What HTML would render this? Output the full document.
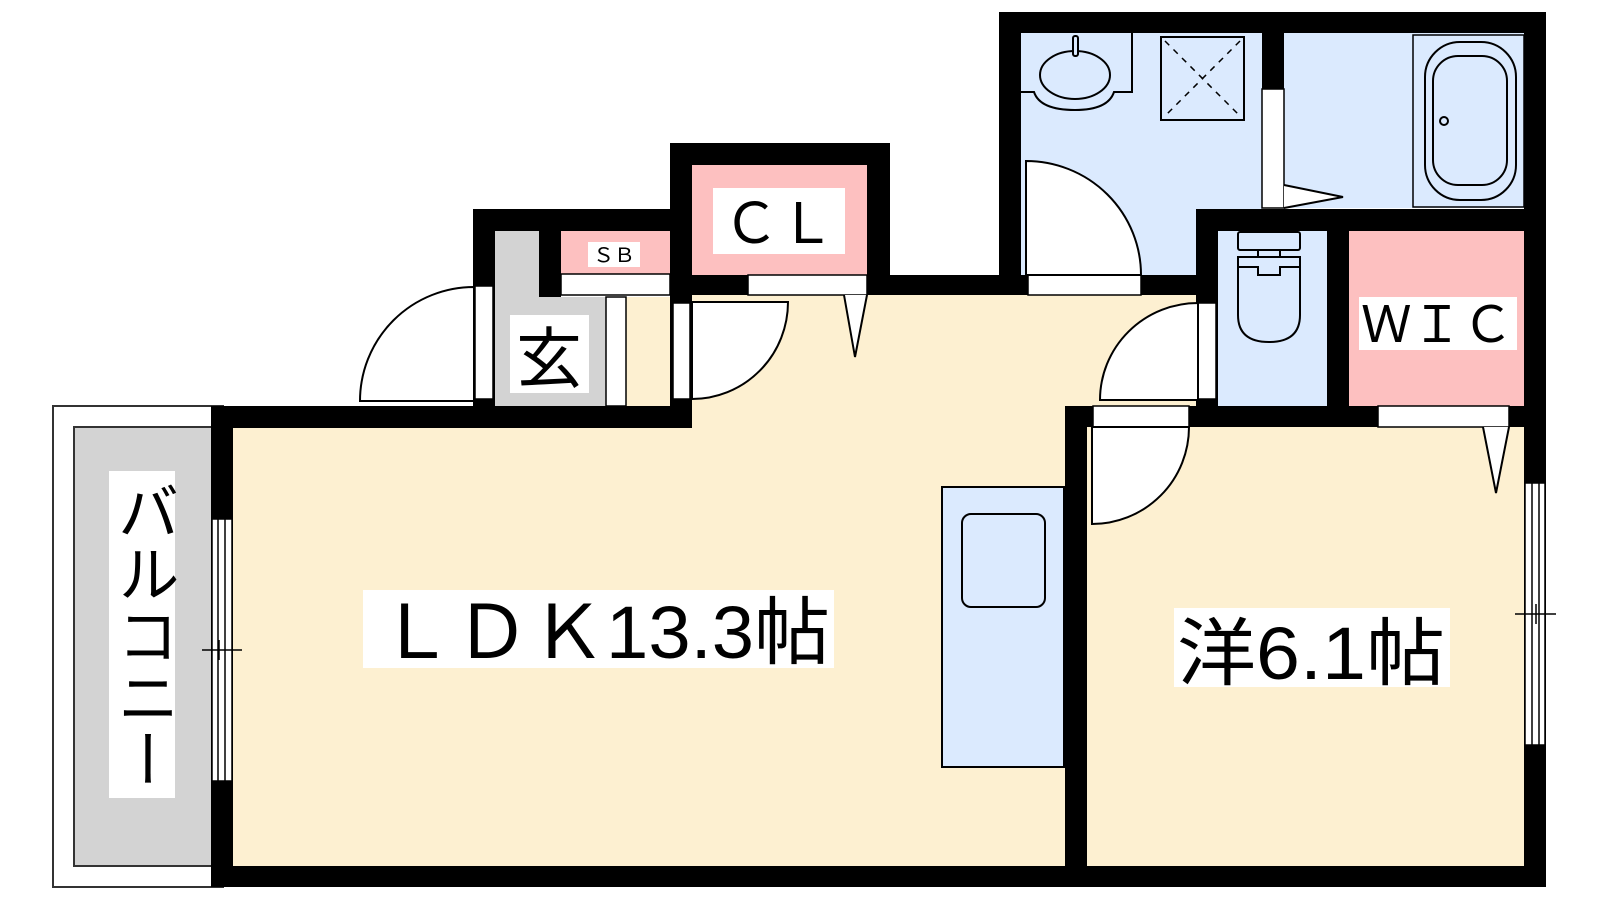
<!DOCTYPE html>
<html><head><meta charset="utf-8"><style>html,body{margin:0;padding:0;background:#fff}svg{display:block}</style></head><body>
<svg width="1600" height="900" viewBox="0 0 1600 900" xmlns="http://www.w3.org/2000/svg" font-family="'Liberation Sans','Noto Sans CJK JP',sans-serif">
<!-- balcony -->
<rect x="53" y="406" width="170" height="481" fill="#fff" stroke="#333" stroke-width="2"/>
<rect x="74" y="427" width="140" height="439" fill="#d3d3d3" stroke="#333" stroke-width="2"/>
<rect x="109" y="471" width="66" height="327" fill="#fff"/>
<text x="142" y="480" font-size="62" writing-mode="vertical-rl" text-anchor="start" fill="#000" textLength="310" lengthAdjust="spacingAndGlyphs">バルコニー</text>
<!-- floors -->
<rect x="233" y="428" width="832" height="438" fill="#fdf0d1"/>
<rect x="692" y="295" width="504" height="133" fill="#fdf0d1"/>
<rect x="626" y="297" width="44" height="109" fill="#fdf0d1"/>
<rect x="1087" y="427" width="437" height="439" fill="#fdf0d1"/>
<!-- genkan -->
<rect x="495" y="231" width="44" height="175" fill="#d3d3d3"/>
<rect x="495" y="297" width="111" height="109" fill="#d3d3d3"/>
<rect x="606" y="297" width="20" height="109" fill="#fff" stroke="#000" stroke-width="1.5"/>
<!-- SB / CL -->
<rect x="561" y="231" width="109" height="43" fill="#fdc0c0"/>
<rect x="561" y="274" width="109" height="21" fill="#fff" stroke="#000" stroke-width="1.5"/>
<rect x="692" y="165" width="175" height="110" fill="#fdc0c0"/>
<rect x="748" y="275" width="119" height="20" fill="#fff" stroke="#000" stroke-width="1.5"/>
<!-- wash / bath / toilet / wic -->
<rect x="1021" y="33" width="241" height="242" fill="#dbeafe"/>
<rect x="1284" y="33" width="240" height="175" fill="#dbeafe"/>
<rect x="1218" y="231" width="109" height="175" fill="#dbeafe"/>
<rect x="1349" y="231" width="175" height="175" fill="#fdc0c0"/>
<!-- walls -->
<g fill="#000">
<rect x="211" y="406" width="481" height="22"/>
<rect x="211" y="406" width="22" height="481"/>
<rect x="211" y="866" width="1335" height="21"/>
<rect x="1065" y="406" width="22" height="481"/>
<rect x="1065" y="406" width="481" height="21"/>
<rect x="1524" y="12" width="22" height="875"/>
<rect x="999" y="12" width="547" height="21"/>
<rect x="999" y="12" width="22" height="283"/>
<rect x="867" y="275" width="329" height="20"/>
<rect x="1196" y="209" width="350" height="22"/>
<rect x="1196" y="209" width="22" height="197"/>
<rect x="1327" y="209" width="22" height="218"/>
<rect x="1262" y="33" width="22" height="56"/>
<rect x="670" y="143" width="220" height="22"/>
<rect x="670" y="143" width="22" height="285"/>
<rect x="867" y="143" width="23" height="152"/>
<rect x="692" y="275" width="56" height="20"/>
<rect x="473" y="209" width="197" height="22"/>
<rect x="473" y="209" width="22" height="219"/>
<rect x="539" y="231" width="22" height="66"/>
</g>
<!-- openings -->
<g fill="#fff" stroke="#000" stroke-width="1.5">
<rect x="475" y="286" width="18" height="113"/>
<rect x="673" y="303" width="17" height="96"/>
<rect x="1028" y="275" width="113" height="20"/>
<rect x="1262" y="89" width="22" height="119"/>
<rect x="1198" y="303" width="18" height="96"/>
<rect x="1093" y="406" width="96" height="21"/>
<rect x="1378" y="406" width="131" height="21"/>
<rect x="212" y="519" width="20" height="262"/>
<rect x="1525" y="483" width="20" height="262"/>
</g>
<g stroke="#000" stroke-width="1.5" fill="none">
<line x1="218" y1="519" x2="218" y2="781"/><line x1="225" y1="519" x2="225" y2="781"/>
<line x1="202" y1="650" x2="242" y2="650"/><line x1="219" y1="640" x2="219" y2="660"/>
<line x1="1532" y1="483" x2="1532" y2="745"/><line x1="1539" y1="483" x2="1539" y2="745"/>
<line x1="1515" y1="614" x2="1556" y2="614"/><line x1="1536" y1="604" x2="1536" y2="624"/>
</g>
<!-- doors -->
<g fill="#fff" stroke="#000" stroke-width="2">
<path d="M474,401 L360,401 A114,114 0 0 1 474,287 Z"/>
<path d="M692,302 L788,302 A96,97 0 0 1 692,399 Z"/>
<path d="M1026,275 L1026,161 A115,114 0 0 1 1141,275 Z"/>
<path d="M1198,400 L1100,400 A98,97 0 0 1 1198,303 Z"/>
<path d="M1092,427 L1189,427 A97,97 0 0 1 1092,524 Z"/>
<path d="M844,295 L855,357 L867,295"/>
<path d="M1483,427 L1496,493 L1509,427"/>
<path d="M1284,185 L1343,197 L1284,208"/>
</g>
<!-- fixtures -->
<g fill="none" stroke="#000" stroke-width="2">
<path d="M1021,92 L1034,92 Q1040,110 1075,110 Q1108,110 1114,92 L1132,92 L1132,33"/>
<ellipse cx="1075" cy="75" rx="35" ry="24"/>
<rect x="1073" y="36" width="5" height="20" rx="2" fill="#dbeafe"/>
<rect x="1161" y="37" width="83" height="83"/>
<path d="M1165,41 L1240,116 M1240,41 L1165,116" stroke-dasharray="6,6" stroke-width="1.5"/>
<rect x="1413" y="35" width="111" height="172" stroke-width="1.5"/>
<rect x="1425" y="42" width="91" height="158" rx="35"/>
<rect x="1433" y="56" width="74" height="129" rx="25"/>
<circle cx="1444" cy="121" r="4"/>
<rect x="1238" y="232" width="62" height="18" rx="2"/>
<path d="M1238,257 L1300,257 L1300,315 Q1300,342 1269,342 Q1238,342 1238,315 Z"/>
<path d="M1238,267 L1258,267 L1258,275 L1280,275 L1280,267 L1300,267"/>
<line x1="1258" y1="250" x2="1258" y2="257"/><line x1="1280" y1="250" x2="1280" y2="257"/>
</g>
<rect x="942" y="487" width="122" height="280" fill="#dbeafe" stroke="#000" stroke-width="2"/>
<rect x="962" y="514" width="83" height="93" rx="9" fill="#dbeafe" stroke="#000" stroke-width="2"/>
<!-- labels -->
<rect x="713" y="188" width="132" height="66" fill="#fff"/>
<text x="723" y="243" font-size="56" textLength="112" lengthAdjust="spacingAndGlyphs">ＣＬ</text>
<rect x="588" y="242" width="52" height="25" fill="#fff"/>
<text x="593" y="262" font-size="20" textLength="42" lengthAdjust="spacingAndGlyphs">ＳＢ</text>
<rect x="510" y="315" width="79" height="78" fill="#fff"/>
<text x="516" y="382" font-size="66">玄</text>
<rect x="1359" y="297" width="158" height="53" fill="#fff"/>
<text x="1361" y="342" font-size="50" textLength="152" lengthAdjust="spacingAndGlyphs">ＷＩＣ</text>
<rect x="363" y="590" width="471" height="78" fill="#fff"/>
<text x="378" y="658" font-size="74" textLength="452" lengthAdjust="spacingAndGlyphs">ＬＤＫ13.3帖</text>
<rect x="1174" y="608" width="276" height="79" fill="#fff"/>
<text x="1177" y="679" font-size="74" textLength="268" lengthAdjust="spacingAndGlyphs">洋6.1帖</text>
</svg>
</body></html>
